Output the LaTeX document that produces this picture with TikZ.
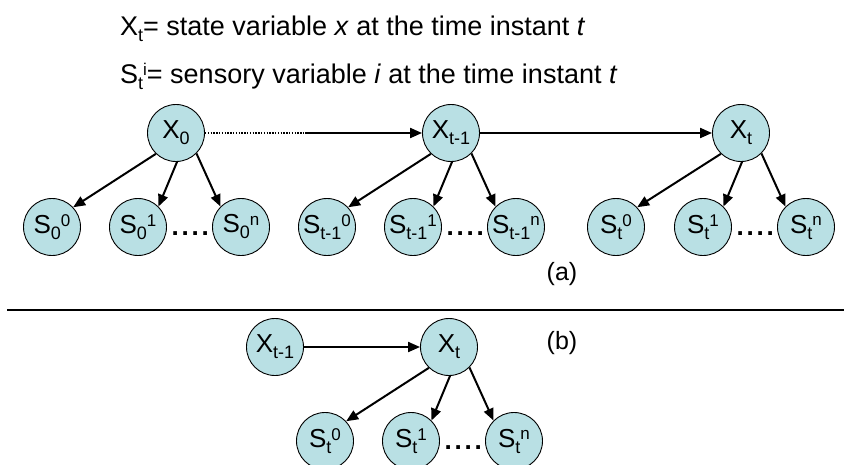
\documentclass[tikz,border=0pt]{standalone}
\usepackage{fontspec}
\setmainfont{Liberation Sans}
\usetikzlibrary{arrows.meta}
\definecolor{nodefill}{RGB}{185,224,228}
\newcommand\lsub[1]{\raisebox{-6pt}{\fontsize{18}{18}\selectfont #1}}
\newcommand\lsup[1]{\raisebox{7.5pt}{\fontsize{17}{17}\selectfont #1}}
\begin{document}
\begin{tikzpicture}[x=1pt,y=-1pt,
  var/.style={circle,draw=black,line width=0.9pt,fill=nodefill,minimum size=57pt,inner sep=0pt,font=\fontsize{26}{26}\selectfont},
  arr/.style={line width=2pt,-{Triangle[length=12pt,width=10pt]}},
  dotsnode/.style={font=\fontsize{26}{26}\selectfont\bfseries,inner sep=0pt,anchor=base east,xshift=-3pt,yshift=-8pt},
  lbl/.style={font=\fontsize{25}{25}\selectfont,inner sep=0pt},
  hdr/.style={font=\fontsize{27}{27}\selectfont,inner sep=0pt,anchor=base west}]
\clip (0,0) rectangle (844,464);
\fill[white] (0,0) rectangle (844,464);
% header
\node[hdr] (h1) at (120,35) {X\lsub{t}= state variable \textit{x} at the time instant \textit{t}};
\node[hdr] (h2) at (120,83) {S\lsub{t}\lsup{i}= sensory variable \textit{i} at the time instant \textit{t}};
% (a) row
\node[var] (X0) at (176,133) {X\lsub{0}};
\node[var] (Xa) at (451,133) {X\lsub{t-1}};
\node[var] (Xb) at (741,133) {X\lsub{t}};
\node[var] (S00) at (52,227) {S\lsub{0}\lsup{0}};
\node[var] (S01) at (138,227) {S\lsub{0}\lsup{1}};
\node[var] (S0n) at (241,227) {S\lsub{0}\lsup{n}};
\node[var] (Sa0) at (327,227) {S\lsub{t-1}\lsup{0}};
\node[var] (Sa1) at (413,227) {S\lsub{t-1}\lsup{1}};
\node[var] (San) at (516,227) {S\lsub{t-1}\lsup{n}};
\node[var] (Sb0) at (616,227) {S\lsub{t}\lsup{0}};
\node[var] (Sb1) at (703,227) {S\lsub{t}\lsup{1}};
\node[var] (Sbn) at (806,227) {S\lsub{t}\lsup{n}};
\node[dotsnode] (d0) at (S0n.west) {.\kern2.8pt.\kern2.8pt.\kern2.8pt.};
\node[dotsnode] (da) at (San.west) {.\kern2.8pt.\kern2.8pt.\kern2.8pt.};
\node[dotsnode] (db) at (Sbn.west) {.\kern2.8pt.\kern2.8pt.\kern2.8pt.};
\coordinate (mid) at (305,133);
\draw[line width=2pt,dash pattern=on 1.5pt off 1.3pt] (X0.east) -- (mid);
\draw[arr] (mid) -- (Xa.west);
\draw[arr] (Xa) -- (Xb);
\foreach \x/\s in {X0/S0,Xa/Sa,Xb/Sb}{
  \draw[arr] (\x.-134) -- (\s0.43);
  \draw[arr] (\x.-88) -- (\s1.45);
  \draw[arr] (\x.-45) -- (\s n.135);
}
\node[lbl] (la) at (562,274) {(a)};
% separator
\coordinate (l1) at (7,310);
\coordinate (l2) at (844,310);
\draw[line width=2pt] (l1) -- (l2);
% (b)
\node[lbl] (lb) at (562,343) {(b)};
\node[var] (Y1) at (275,347) {X\lsub{t-1}};
\node[var] (Y2) at (449,347) {X\lsub{t}};
\node[var] (T0) at (325,441) {S\lsub{t}\lsup{0}};
\node[var] (T1) at (411,441) {S\lsub{t}\lsup{1}};
\node[var] (Tn) at (514,441) {S\lsub{t}\lsup{n}};
\node[dotsnode] (dc) at (Tn.west) {.\kern2.8pt.\kern2.8pt.\kern2.8pt.};
\draw[arr] (Y1) -- (Y2);
\draw[arr] (Y2.-134) -- (T0.43);
\draw[arr] (Y2.-88) -- (T1.45);
\draw[arr] (Y2.-45) -- (Tn.135);
\end{tikzpicture}
\end{document}
